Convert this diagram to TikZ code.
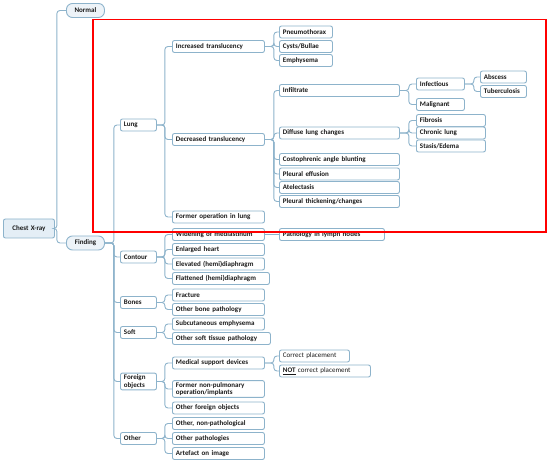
\documentclass[tikz,border=0pt]{standalone}
\usepackage{fontspec}
\setmainfont{Carlito}
\usetikzlibrary{positioning}
\definecolor{edge}{HTML}{8DB3CB}
\definecolor{rootfill}{HTML}{E4EEF6}
\definecolor{pillfill}{HTML}{EDF3F8}
\definecolor{ink}{HTML}{1A1A1A}
\definecolor{notemark}{HTML}{3D7FD0}

\begin{document}
\begin{tikzpicture}[x=1pt,y=-1pt,
    box/.style={draw=edge, fill=white, rounded corners=2pt, line width=0.9pt,
        anchor=west, minimum height=12pt, inner xsep=3.5pt, inner ysep=1.5pt,
        align=left, text=ink, font=\fontsize{7}{7.8}\selectfont\bfseries},
    plain/.style={box, font=\fontsize{7}{7.8}\selectfont},
    pill/.style={box, fill=pillfill, rounded corners=6pt, align=center, minimum height=14pt},
    rootbox/.style={box, fill=rootfill, align=center, minimum height=19pt},
    noted/.style={path picture={\fill[notemark] (path picture bounding box.south east)
        -- ++(-2.2pt,0) -- ++(2.2pt,-2.2pt) -- cycle;}},
    conn/.style={draw=edge, line width=0.9pt, rounded corners=3pt}]

    \useasboundingbox (0,0) rectangle (550,462);

    % Nodes
    \node [rootbox, text width=44] (chest) at (3,228.5) {Chest X-ray};
    \node [pill, text width=31] (normal) at (66,10.5) {Normal};
    \node [pill, text width=31] (finding) at (66,243) {Finding};

    \node [box, text width=29] (lung) at (120,125) {Lung};
    \node [box, noted, text width=85] (inc) at (172,46.5) {Increased translucency};
    \node [box, noted, text width=85] (dec) at (172,139.5) {Decreased translucency};
    \node [box, noted, text width=85] (formerop) at (172,217) {Former operation in lung};

    \node [box, text width=46] (pneumo) at (279,32) {Pneumothorax};
    \node [box, text width=46] (cysts) at (279,46.5) {Cysts/Bullae};
    \node [box, text width=46] (emph) at (279,60.5) {Emphysema};

    \node [box, noted, text width=113] (infil) at (279,90.5) {Infiltrate};
    \node [box, text width=113] (diffuse) at (279,133) {Diffuse lung changes};
    \node [box, text width=113] (costo) at (279,159.5) {Costophrenic angle blunting};
    \node [box, noted, text width=113] (effusion) at (279,174) {Pleural effusion};
    \node [box, noted, text width=113] (atel) at (279,187.5) {Atelectasis};
    \node [box, text width=113] (thick) at (279,201.5) {Pleural thickening/changes};

    \node [box, noted, text width=41] (infect) at (416,84) {Infectious};
    \node [box, text width=41] (malig) at (416,104.5) {Malignant};
    \node [box, text width=39] (abscess) at (480,77) {Abscess};
    \node [box, text width=39] (tuberc) at (480,91.5) {Tuberculosis};
    \node [box, noted, text width=62] (fibrosis) at (416,120.5) {Fibrosis};
    \node [box, noted, text width=62] (chronic) at (416,133) {Chronic lung};
    \node [box, noted, text width=62] (stasis) at (416,146) {Stasis/Edema};

    \node [box, noted, text width=29] (contour) at (120,257) {Contour};
    \node [box, noted, text width=85] (widening) at (172,234.5) {Widening of mediastinum};
    \node [box, text width=98] (lymph) at (279,234.5) {Pathology in lymph nodes};
    \node [box, noted, text width=85] (heart) at (172,249.5) {Enlarged heart};
    \node [box, noted, text width=85] (elevated) at (172,264) {Elevated (hemi)diaphragm};
    \node [box, noted, text width=90] (flattened) at (172,278.5) {Flattened (hemi)diaphragm};

    \node [box, noted, text width=29] (bones) at (120,302.5) {Bones};
    \node [box, noted, text width=85] (fracture) at (172,295) {Fracture};
    \node [box, noted, text width=85] (otherbone) at (172,309.5) {Other bone pathology};

    \node [box, noted, text width=29] (soft) at (120,332.5) {Soft};
    \node [box, noted, text width=85] (subcut) at (172,324) {Subcutaneous emphysema};
    \node [box, noted, text width=91] (othersoft) at (172,338.5) {Other soft tissue pathology};

    \node [box, noted, text width=29] (foreign) at (120,381.5) {Foreign\\objects};
    \node [box, noted, text width=85] (medical) at (172,363) {Medical support devices};
    \node [box, noted, text width=85] (formernp) at (172,389) {Former non-pulmonary\\operation/implants};
    \node [box, noted, text width=85] (otherforeign) at (172,408) {Other foreign objects};
    \node [plain, text width=63] (correct) at (279,356) {Correct placement};
    \node [plain, text width=84] (notcorrect) at (279,371) {\textbf{\underline{NOT}} correct placement};

    \node [box, noted, text width=29] (other) at (120,438.5) {Other};
    \node [box, text width=85] (othernonpath) at (172,423.5) {Other, non-pathological};
    \node [box, text width=85] (otherpath) at (172,438.5) {Other pathologies};
    \node [box, text width=85] (artefact) at (172,453.5) {Artefact on image};

    % Connections
    \foreach \c in {normal,finding} \draw [conn] (chest.east) -- ++(2,0) |- (\c.west);
    \foreach \c in {lung,contour,bones,soft,foreign,other} \draw [conn] (finding.east) -- ++(9,0) |- (\c.west);
    \foreach \c in {inc,dec,formerop} \draw [conn] (lung.east) -- ++(8,0) |- (\c.west);
    \foreach \c in {pneumo,cysts,emph} \draw [conn] (inc.east) -- ++(9,0) |- (\c.west);
    \foreach \c in {infil,diffuse,costo,effusion,atel,thick} \draw [conn] (dec.east) -- ++(9,0) |- (\c.west);
    \foreach \c in {infect,malig} \draw [conn] (infil.east) -- ++(9,0) |- (\c.west);
    \foreach \c in {abscess,tuberc} \draw [conn] (infect.east) -- ++(9,0) |- (\c.west);
    \foreach \c in {fibrosis,chronic,stasis} \draw [conn] (diffuse.east) -- ++(9,0) |- (\c.west);
    \foreach \c in {widening,heart,elevated,flattened} \draw [conn] (contour.east) -- ++(8,0) |- (\c.west);
    \draw [conn] (widening) -- (lymph);
    \foreach \c in {fracture,otherbone} \draw [conn] (bones.east) -- ++(8,0) |- (\c.west);
    \foreach \c in {subcut,othersoft} \draw [conn] (soft.east) -- ++(8,0) |- (\c.west);
    \foreach \c in {medical,formernp,otherforeign} \draw [conn] (foreign.east) -- ++(8,0) |- (\c.west);
    \foreach \c in {correct,notcorrect} \draw [conn] (medical.east) -- ++(9,0) |- (\c.west);
    \foreach \c in {othernonpath,otherpath,artefact} \draw [conn] (other.east) -- ++(8,0) |- (\c.west);

    % Highlighted region
    \draw [red, line width=1.6pt] (93,19.5) rectangle (546,232);

\end{tikzpicture}
\end{document}
